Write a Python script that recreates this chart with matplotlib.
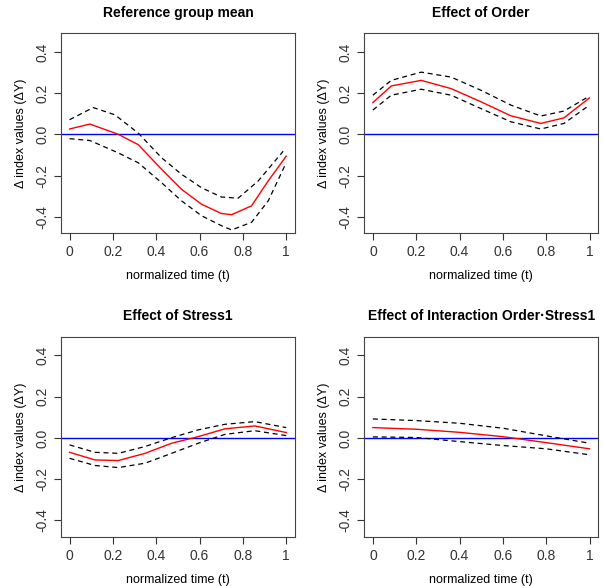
import numpy as np
import matplotlib.pyplot as plt

plt.rcParams['font.family'] = ['Liberation Sans', 'DejaVu Sans']

# reference group mean
ref_t = [0, 0.094, 0.225, 0.317, 0.425, 0.517, 0.609, 0.70, 0.748, 0.84, 0.917, 1.0]
ref_mean = [0.026, 0.05, 0.0, -0.05, -0.17, -0.267, -0.339, -0.384, -0.39, -0.347, -0.226, -0.106]
ref_up_t = [0, 0.109, 0.209, 0.317, 0.425, 0.517, 0.609, 0.70, 0.778, 0.871, 0.986]
ref_up = [0.071, 0.13, 0.095, 0.006, -0.114, -0.194, -0.259, -0.304, -0.31, -0.226, -0.082]
ref_lo = [-0.021, -0.03, -0.09, -0.138, -0.235, -0.323, -0.395, -0.443, -0.464, -0.427, -0.323, -0.138]

# effect of order
ord_t = [0, 0.085, 0.223, 0.361, 0.499, 0.637, 0.775, 0.882, 1.0]
ord_mean = [0.154, 0.235, 0.262, 0.222, 0.158, 0.09, 0.053, 0.08, 0.177]
ord_up = [0.19, 0.262, 0.302, 0.278, 0.214, 0.142, 0.089, 0.113, 0.186]
ord_lo = [0.118, 0.19, 0.219, 0.19, 0.125, 0.061, 0.026, 0.053, 0.142]

# effect of stress1
str_t = [0, 0.117, 0.225, 0.348, 0.471, 0.594, 0.717, 0.855, 1.0]
str_mean = [-0.07, -0.107, -0.11, -0.075, -0.026, 0.006, 0.044, 0.058, 0.026]
str_up = [-0.034, -0.07, -0.075, -0.042, 0.001, 0.039, 0.066, 0.079, 0.05]
str_lo = [-0.099, -0.134, -0.144, -0.123, -0.075, -0.026, 0.017, 0.035, 0.011]

# interaction order x stress1
int_t = [0, 0.2, 0.4, 0.6, 0.8, 1.0]
int_mean = [0.05, 0.042, 0.027, 0.006, -0.023, -0.053]
int_up = [0.092, 0.084, 0.071, 0.047, 0.01, -0.026]
int_lo = [0.005, 0.002, -0.018, -0.037, -0.053, -0.082]

panels = [
    ("Reference group mean", ref_t, ref_mean, ref_up_t, ref_up, ref_t, ref_lo),
    ("Effect of Order", ord_t, ord_mean, ord_t, ord_up, ord_t, ord_lo),
    ("Effect of Stress1", str_t, str_mean, str_t, str_up, str_t, str_lo),
    ("Effect of Interaction Order\u00b7Stress1", int_t, int_mean, int_t, int_up, int_t, int_lo),
]

fig = plt.figure(figsize=(6.03, 5.86), dpi=100)
positions = [[0.101, 0.602, 0.388, 0.341], [0.604, 0.602, 0.388, 0.341],
             [0.101, 0.084, 0.388, 0.341], [0.604, 0.084, 0.388, 0.341]]

for pos, (title, mt, m, ut, up, lt, lo) in zip(positions, panels):
    ax = fig.add_axes(pos)
    ax.axhline(0, color='blue', lw=1)
    ax.plot(ut, up, color='black', ls=(0, (4, 3)), lw=0.9)
    ax.plot(lt, lo, color='black', ls=(0, (4, 3)), lw=0.9)
    ax.plot(mt, m, color='red', lw=1)
    ax.set_xlim(-0.04, 1.04)
    ax.set_ylim(-0.48, 0.49)
    ax.set_xticks([0, 0.2, 0.4, 0.6, 0.8, 1])
    ax.set_xticklabels(['0', '0.2', '0.4', '0.6', '0.8', '1'])
    ax.set_yticks([-0.4, -0.2, 0, 0.2, 0.4])
    ax.set_yticklabels(['-0.4', '-0.2', '0.0', '0.2', '0.4'], rotation=90, va='center')
    ax.tick_params(direction='out', length=5, labelsize=10, colors='#333333')
    for s in ax.spines.values():
        s.set_color('#444444')
    ax.set_title(title, fontsize=10, fontweight='bold', pad=12)
    ax.set_xlabel("normalized time (t)", fontsize=9, labelpad=8)
    ax.set_ylabel("\u0394 index values (\u0394Y)", fontsize=9, labelpad=6)

fig.savefig("out.png", dpi=100)
